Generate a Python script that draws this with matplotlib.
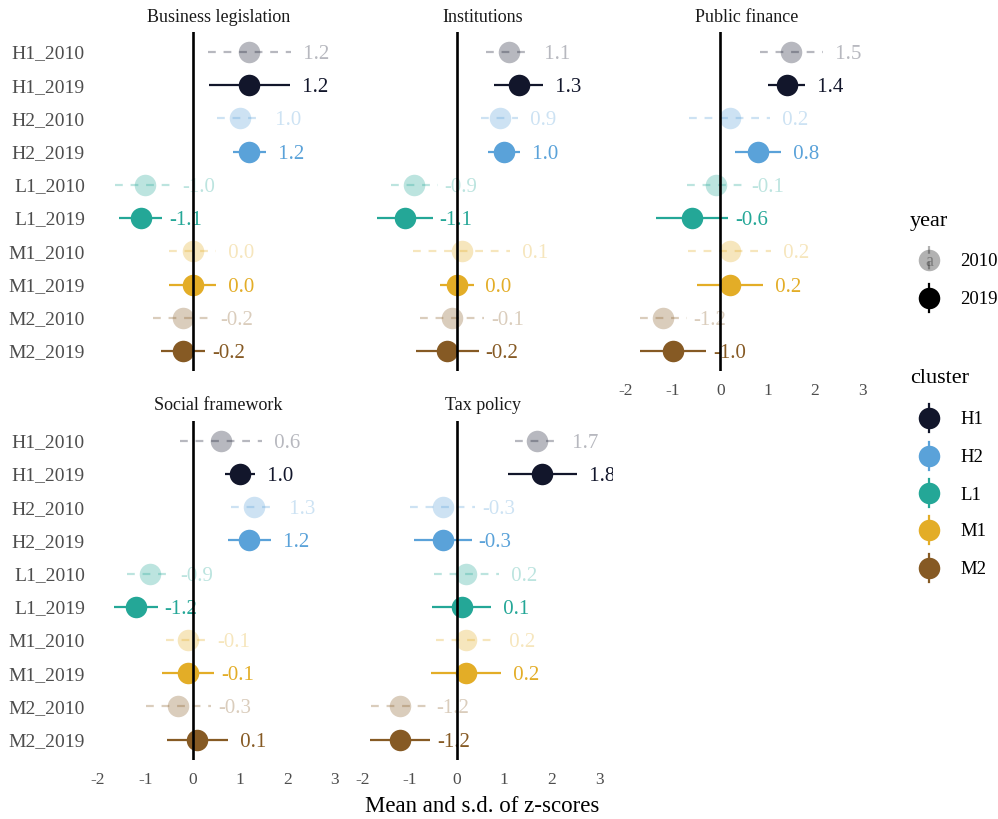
import matplotlib
matplotlib.use("Agg")
import matplotlib.pyplot as plt
from matplotlib.lines import Line2D
import matplotlib.transforms as mtransforms

plt.rcParams["font.family"] = ["Liberation Serif", "DejaVu Serif"]

# ---- data -------------------------------------------------------------
row_labels = ["H1_2010", "H1_2019", "H2_2010", "H2_2019", "L1_2010",
              "L1_2019", "M1_2010", "M1_2019", "M2_2010", "M2_2019"]
row_cluster = ["H1", "H1", "H2", "H2", "L1", "L1", "M1", "M1", "M2", "M2"]
row_year = ["2010", "2019"] * 5

panel_titles = ["Business legislation", "Institutions", "Public finance",
                "Social framework", "Tax policy"]

mean_business = [1.2, 1.2, 1.0, 1.2, -1.0, -1.1, 0.0, 0.0, -0.2, -0.2]
sd_business = [0.88, 0.86, 0.49, 0.34, 0.64, 0.45, 0.49, 0.50, 0.63, 0.46]

mean_institutions = [1.1, 1.3, 0.9, 1.0, -0.9, -1.1, 0.1, 0.0, -0.1, -0.2]
sd_institutions = [0.48, 0.52, 0.39, 0.34, 0.49, 0.59, 1.03, 0.35, 0.68, 0.66]

mean_public = [1.5, 1.4, 0.2, 0.8, -0.1, -0.6, 0.2, 0.2, -1.2, -1.0]
sd_public = [0.67, 0.39, 0.86, 0.48, 0.61, 0.76, 0.88, 0.70, 0.49, 0.70]

mean_social = [0.6, 1.0, 1.3, 1.2, -0.9, -1.2, -0.1, -0.1, -0.3, 0.1]
sd_social = [0.87, 0.32, 0.48, 0.46, 0.49, 0.46, 0.47, 0.55, 0.69, 0.64]

mean_tax = [1.7, 1.8, -0.3, -0.3, 0.2, 0.1, 0.2, 0.2, -1.2, -1.2]
sd_tax = [0.48, 0.73, 0.69, 0.61, 0.69, 0.62, 0.64, 0.74, 0.61, 0.64]

x_ticks = [-2, -1, 0, 1, 2, 3]
clusters = ["H1", "H2", "L1", "M1", "M2"]
years = ["2010", "2019"]

# ---- style ------------------------------------------------------------
cluster_colors = {"H1": "#12162b", "H2": "#5aa2d9", "L1": "#24a797",
                  "M1": "#e3ad27", "M2": "#865a24"}
year_alpha = {"2010": 0.3, "2019": 1.0}
year_dash = {"2010": (0, (3.5, 3.5)), "2019": "-"}
text_grey = "#4d4d4d"

W, H = 998, 819
fig = plt.figure(figsize=(W / 100, H / 100), dpi=100)


def px_axes(left, top, width, height):
    return fig.add_axes([left / W, 1 - (top + height) / H, width / W, height / H])


panel_w = 260.6
col_left = [88.4, 352.7, 616.0]
rows = [(32.0, 339.0), (421.0, 338.5)]
panel_data = [(mean_business, sd_business), (mean_institutions, sd_institutions),
              (mean_public, sd_public), (mean_social, sd_social),
              (mean_tax, sd_tax)]

for k, (title, (means, sds)) in enumerate(zip(panel_titles, panel_data)):
    r, c = divmod(k, 3)
    top, height = rows[r]
    ax = px_axes(col_left[c], top, panel_w, height)
    ax.set_xlim(-2.2, 3.3)
    ax.set_ylim(len(row_labels) - 0.4, -0.6)
    for s in ax.spines.values():
        s.set_visible(False)
    ax.tick_params(length=0)
    ax.set_yticks(range(len(row_labels)))
    if c == 0:
        ax.set_yticklabels(row_labels, fontsize=14, color=text_grey)
        ax.tick_params(axis="y", pad=2.5)
    else:
        ax.set_yticklabels([])
    ax.set_xticks(x_ticks)
    if r == 1 or c == 2:
        ax.set_xticklabels([str(t) for t in x_ticks], fontsize=12.5, color=text_grey)
        ax.tick_params(axis="x", pad=9)
    else:
        ax.set_xticklabels([])

    label_shift = mtransforms.offset_copy(ax.transData, fig=fig, x=5, y=0, units="points")
    for i, (m, sd) in enumerate(zip(means, sds)):
        col = cluster_colors[row_cluster[i]]
        a = year_alpha[row_year[i]]
        ax.plot([m - sd, m + sd], [i, i], color=col, alpha=a, lw=1.6,
                linestyle=year_dash[row_year[i]], solid_capstyle="butt", zorder=2)
        ax.plot([m], [i], marker="o", ms=15.5, color=col, alpha=a,
                markeredgewidth=0, linestyle="none", zorder=3)
        ax.text(m + sd, i, f"{m: .1f}", transform=label_shift, ha="left",
                va="center_baseline", fontsize=15, color=col, alpha=a,
                clip_on=True, zorder=4)
    ax.axvline(0, color="black", lw=1.9, zorder=5)

    fig.text((col_left[c] + panel_w / 2) / W, 1 - (top - 17) / H, title,
             ha="center", va="center_baseline", fontsize=13, color="#1a1a1a")

fig.text((col_left[0] + col_left[2] + panel_w) / 2 / W, 1 - 804 / H,
         "Mean and s.d. of z-scores", ha="center", va="center_baseline",
         fontsize=16.5, color="black")

# ---- legends ------------------------------------------------------------
lg = fig.add_axes([0, 0, 1, 1], zorder=-1)
lg.set_xlim(0, W)
lg.set_ylim(H, 0)
lg.axis("off")

key_x = 929
lg.text(910, 219, "year", fontsize=16, ha="left", va="center_baseline", color="black")
for yv, ky in zip(years, [260, 298]):
    a = year_alpha[yv]
    lg.add_line(Line2D([key_x, key_x], [ky - 14, ky + 14], color="black", alpha=a,
                       lw=1.6, linestyle=year_dash[yv]))
    lg.plot([key_x], [ky], marker="o", ms=15.5, color="black", alpha=a,
            markeredgewidth=0)
    if yv == "2010":
        lg.text(key_x, ky + 1, "a", fontsize=13, ha="center", va="center",
                color="black", alpha=a)
    lg.text(960, ky, yv, fontsize=13.5, ha="left", va="center_baseline", color="black")

lg.text(910, 376, "cluster", fontsize=16, ha="left", va="center_baseline", color="black")
for cl, ky in zip(clusters, [418, 455.5, 493, 530, 567.5]):
    col = cluster_colors[cl]
    lg.add_line(Line2D([key_x, key_x], [ky - 14, ky + 14], color=col, lw=1.6))
    lg.plot([key_x], [ky], marker="o", ms=15.5, color=col, markeredgewidth=0)
    lg.text(960, ky, cl, fontsize=13.5, ha="left", va="center_baseline", color="black")

fig.savefig("out.png", dpi=100, facecolor="white")
